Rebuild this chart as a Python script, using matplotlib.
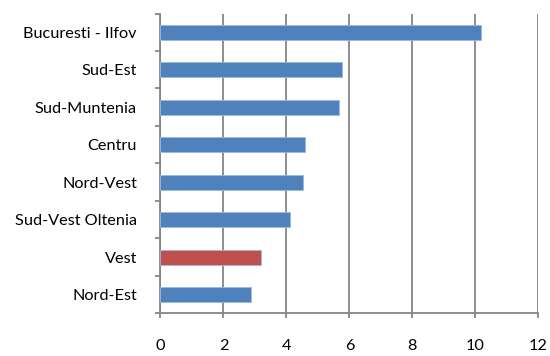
import numpy as np
import matplotlib.pyplot as plt

plt.rcParams['font.family'] = ['Lato', 'DejaVu Sans']

regions = ['Nord-Est', 'Vest', 'Sud-Vest Oltenia', 'Nord-Vest', 'Centru',
           'Sud-Muntenia', 'Sud-Est', 'Bucuresti - Ilfov']
values = [2.86, 3.18, 4.1, 4.53, 4.6, 5.68, 5.75, 10.17]
highlight = 'Vest'

blue = '#4F81BD'
red = '#C0504D'
grid_col = '#868686'

fig = plt.figure(figsize=(5.5, 3.56), dpi=100)
ax = fig.add_axes([0.2918, 0.12, 0.6869, 0.842])

y = np.arange(len(regions))
colors = [red if r == highlight else blue for r in regions]
ax.barh(y, values, height=0.4, color=colors, edgecolor='#9DB9DE', linewidth=0.6, zorder=3)

ax.set_xlim(0, 12)
ax.set_ylim(-0.5, len(regions) - 0.5)
ax.set_xticks(np.arange(0, 13, 2))
ax.set_yticks(y)
ax.set_yticklabels(regions)
ax.set_yticks(np.arange(-0.5, len(regions), 1), minor=True)

ax.grid(axis='x', color=grid_col, linewidth=1.3, zorder=0)
for s in ['top', 'right']:
    ax.spines[s].set_visible(False)
for s in ['left', 'bottom']:
    ax.spines[s].set_color(grid_col)
    ax.spines[s].set_linewidth(1.3)

ax.tick_params(axis='y', which='major', length=0, pad=17, labelsize=11.7)
ax.tick_params(axis='y', which='minor', length=3.6, width=1.3, color=grid_col, direction='out')
ax.tick_params(axis='x', length=3.6, width=1.3, color=grid_col, pad=15, labelsize=11.7)

fig.savefig('out.png', dpi=100)
